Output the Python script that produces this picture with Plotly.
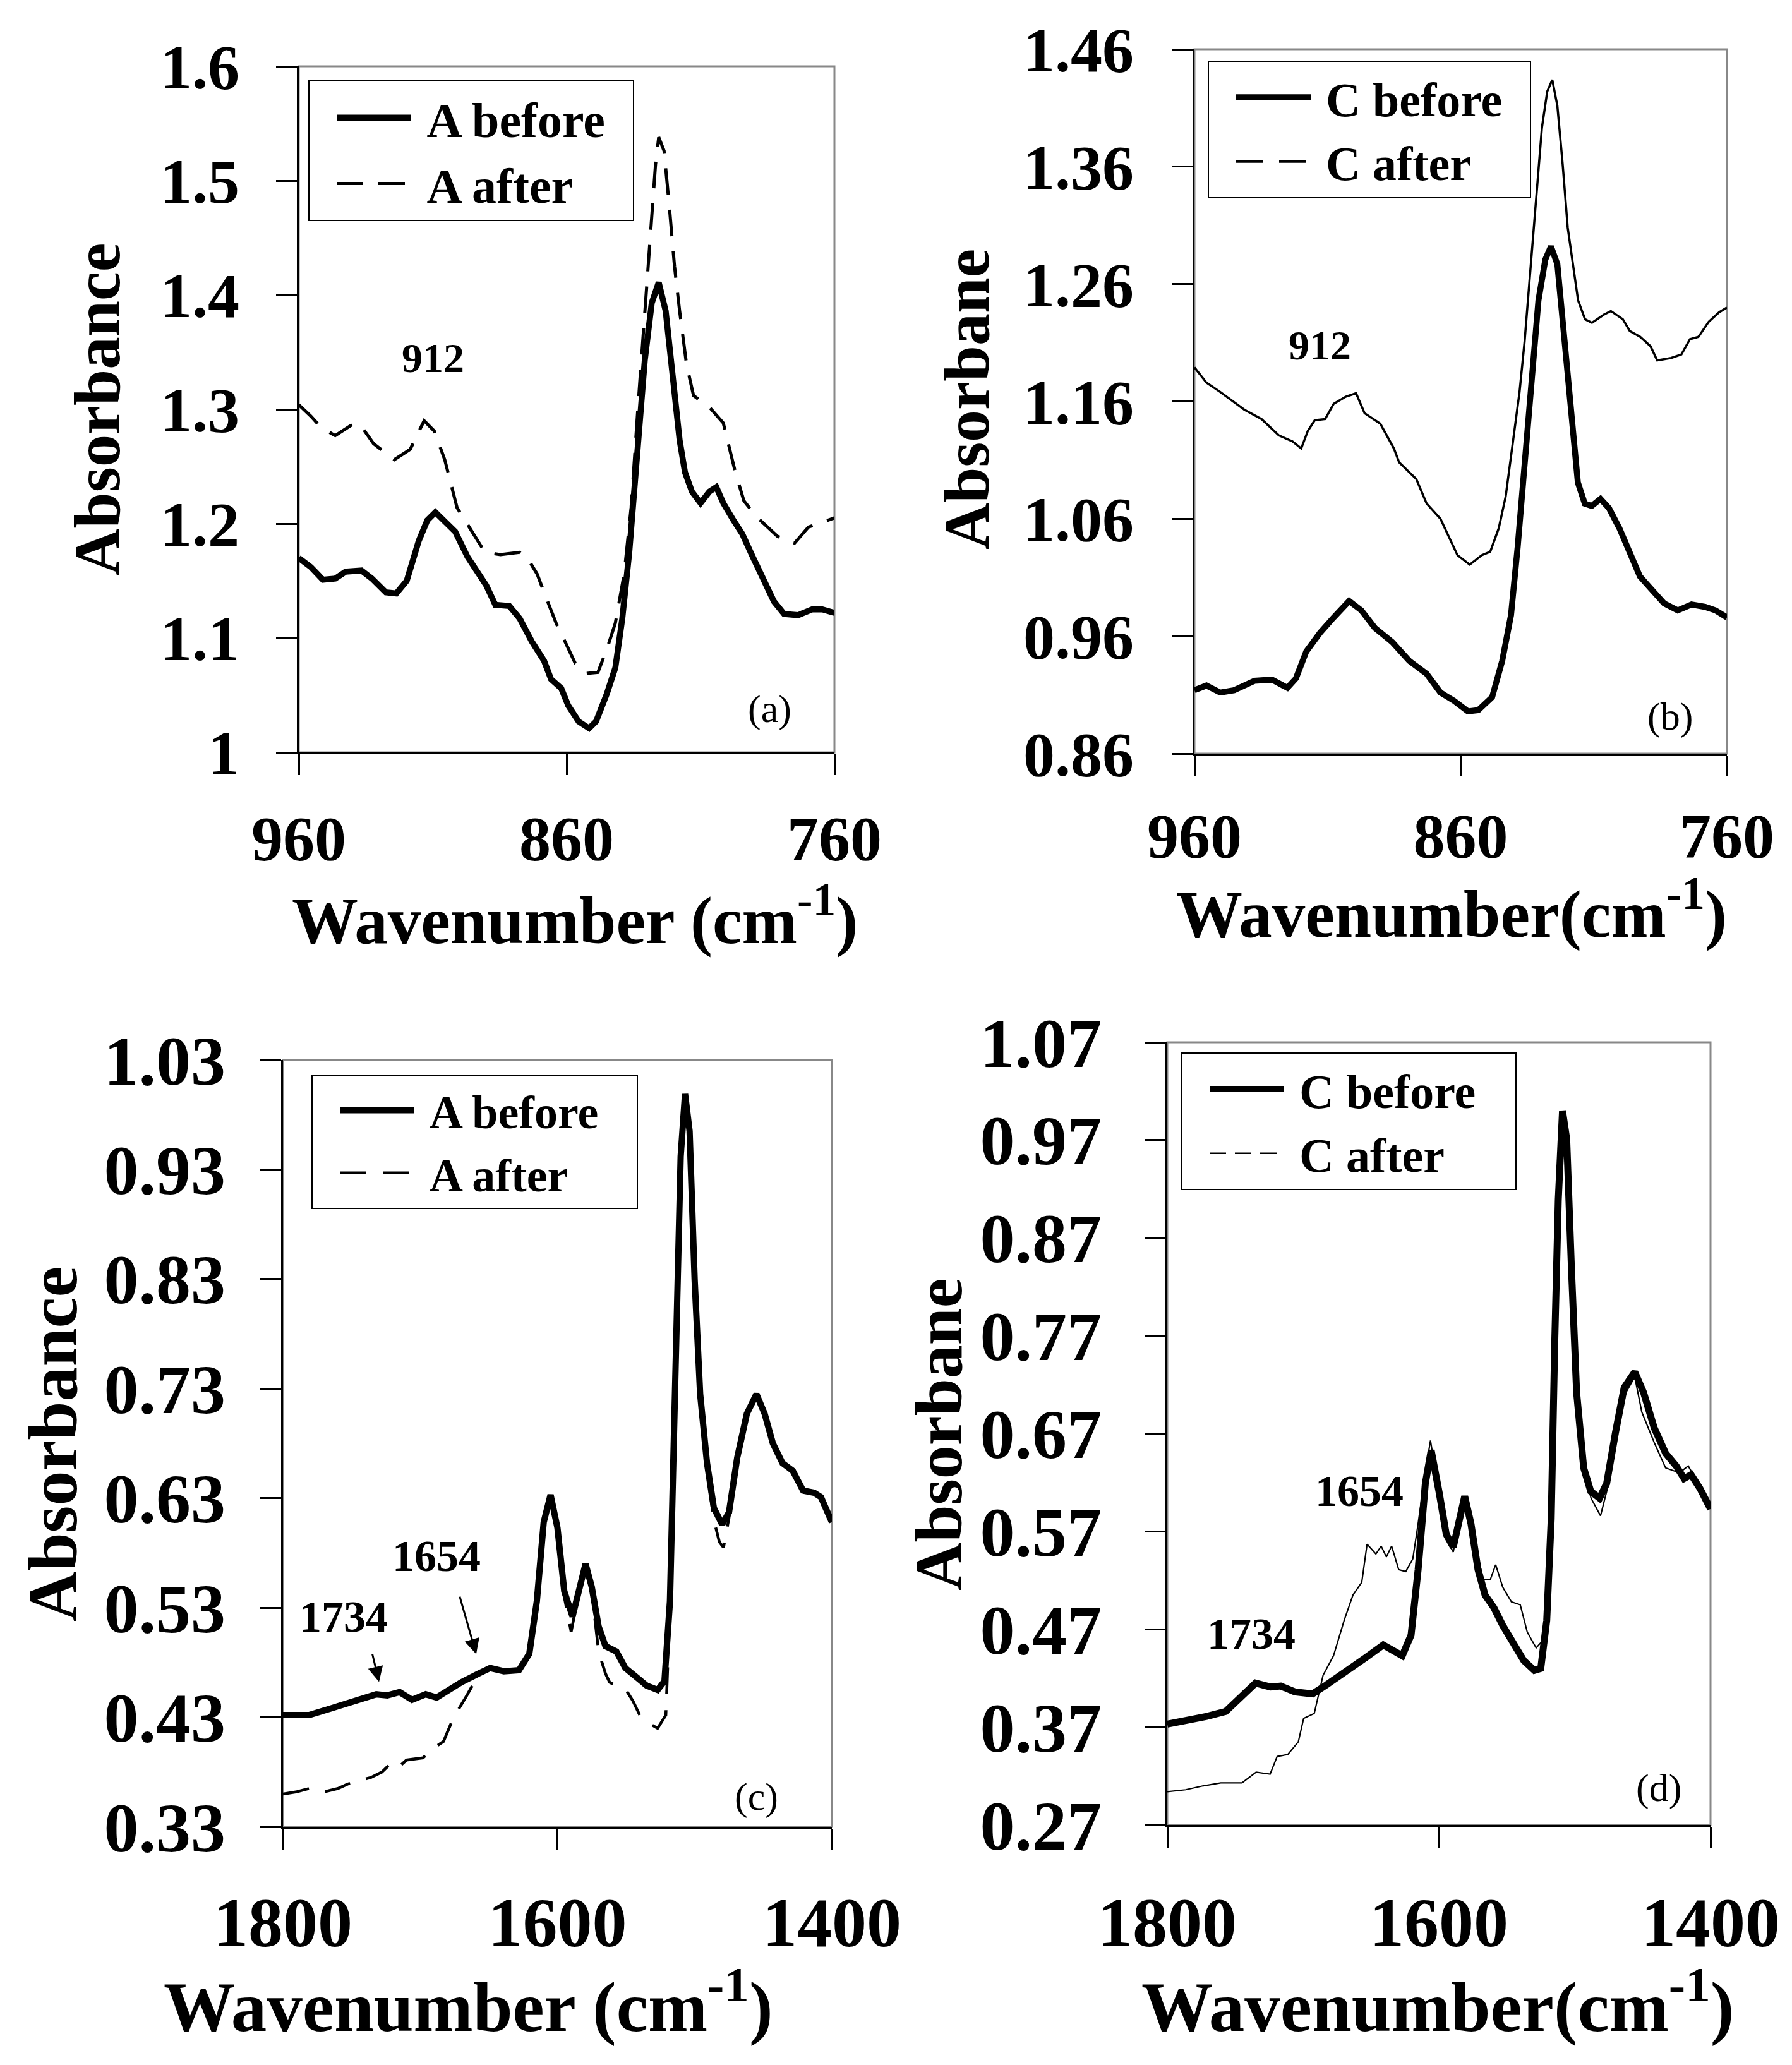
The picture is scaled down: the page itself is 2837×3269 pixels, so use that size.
import plotly.graph_objects as go

W, H = 2837, 3269
FONT = "Liberation Serif"
NB = "\u00a0"

# ---------------- data ----------------
# (a) sample A, 960-760 cm-1
a_before_wn = [960, 955.5, 951, 946.4, 942.5, 936.6, 932.7, 927.5, 923.6, 919.7, 915.2, 912, 909, 906,
               901.6, 897, 893, 890, 886.6, 881.4, 877.5, 873, 868.4, 865.8, 862, 859.4, 855.5, 851.6,
               849, 845, 841.8, 839.2, 836.6, 834, 830.8, 828.2, 825.6, 823, 820.4, 817.8, 815.8, 813.2,
               810, 806.7, 804.1, 801.5, 797.7, 794.4, 790.5, 786.5, 782.6, 778.8, 773.6, 768.4, 764.5, 760]
a_before_abs = [1.170, 1.162, 1.151, 1.152, 1.158, 1.159, 1.152, 1.140, 1.139, 1.150, 1.185, 1.203, 1.210, 1.203,
                1.193, 1.171, 1.157, 1.146, 1.129, 1.128, 1.117, 1.097, 1.080, 1.064, 1.056, 1.041, 1.027, 1.021,
                1.027, 1.051, 1.074, 1.117, 1.175, 1.253, 1.343, 1.393, 1.411, 1.386, 1.323, 1.273, 1.245, 1.228,
                1.218, 1.228, 1.232, 1.218, 1.203, 1.191, 1.171, 1.152, 1.132, 1.121, 1.120, 1.125, 1.125, 1.122]
a_after_wn = [960, 955.5, 951.6, 946.4, 939.2, 936.6, 932.1, 924.3, 918.4, 913.2, 909.4, 905.5, 900.9, 895.7,
              890.5, 884.7, 877.5, 874.9, 871, 867.1, 863.9, 860, 856.8, 852.9, 848.3, 845, 841.8, 838.5,
              835.9, 833.4, 830.8, 828.8, 826.8, 825.6, 823.6, 821.7, 819.7, 817.8, 815.2, 812.6, 806.7,
              801.5, 799, 797, 793.8, 789.1, 781.3, 774.9, 769.7, 764.5, 760]
a_after_abs = [1.304, 1.294, 1.284, 1.277, 1.288, 1.285, 1.270, 1.256, 1.265, 1.290, 1.281, 1.256, 1.214, 1.195,
               1.175, 1.173, 1.175, 1.171, 1.156, 1.132, 1.113, 1.094, 1.078, 1.069, 1.070, 1.090, 1.113, 1.156,
               1.214, 1.300, 1.386, 1.448, 1.514, 1.538, 1.526, 1.479, 1.425, 1.386, 1.339, 1.312, 1.302,
               1.288, 1.265, 1.245, 1.220, 1.206, 1.189, 1.183, 1.197, 1.201, 1.205]

# (b) sample C, 960-760 cm-1
b_before_wn = [960, 955.5, 950.3, 945.1, 937.4, 930.9, 925.1, 921.9, 918, 912.8, 907.7, 901.9, 897.3, 892.2,
               885.7, 879.3, 872.8, 867.6, 862.5, 857.3, 853.4, 848.2, 844.4, 841.1, 838.6, 836, 833.4, 830.8,
               828.2, 826.1, 823.7, 821.1, 818.5, 816, 813.4, 810.8, 807.5, 804.3, 800.4, 796.5, 792.7, 788.8,
               783.6, 778.5, 773.3, 768.2, 764.3, 760]
b_before_abs = [0.914, 0.918, 0.912, 0.914, 0.922, 0.923, 0.916, 0.924, 0.947, 0.963, 0.976, 0.990, 0.982, 0.967,
                0.955, 0.939, 0.928, 0.912, 0.905, 0.896, 0.897, 0.908, 0.939, 0.978, 1.036, 1.106, 1.180, 1.246,
                1.281, 1.292, 1.277, 1.215, 1.141, 1.091, 1.073, 1.071, 1.077, 1.069, 1.052, 1.032, 1.011, 1.001,
                0.988, 0.982, 0.987, 0.985, 0.982, 0.976]
b_after_wn = [960, 955.5, 950.3, 941.3, 934.8, 928.3, 923.2, 919.9, 917.4, 914.8, 910.9, 907.7, 903.2, 899.3,
              896.1, 890.2, 885.1, 883.1, 876.7, 872.8, 867.6, 864.4, 861.2, 856.6, 852.1, 848.9, 845.7, 843.1,
              840.5, 837.9, 836, 833.4, 831.4, 829.5, 827.5, 825.6, 823.7, 821.7, 819.8, 817.8, 815.9, 813.3,
              810.7, 806.2, 803.6, 799.1, 796.5, 792.6, 788.7, 786.2, 781, 777.1, 773.9, 770.7, 766.8, 762.9, 760]
b_after_abs = [1.189, 1.176, 1.168, 1.153, 1.145, 1.131, 1.126, 1.120, 1.135, 1.144, 1.145, 1.158, 1.164, 1.167,
               1.150, 1.141, 1.120, 1.108, 1.094, 1.073, 1.060, 1.044, 1.029, 1.021, 1.029, 1.032, 1.052, 1.079,
               1.122, 1.168, 1.211, 1.284, 1.339, 1.393, 1.424, 1.434, 1.412, 1.362, 1.308, 1.277, 1.246, 1.230,
               1.227, 1.234, 1.237, 1.230, 1.220, 1.215, 1.207, 1.195, 1.197, 1.200, 1.213, 1.215, 1.228, 1.236, 1.240]

# (c) sample A, 1800-1400 cm-1
c_before_wn = [1800, 1790, 1781, 1768, 1760, 1750, 1740, 1732, 1724, 1715, 1706, 1696, 1688, 1680, 1670, 1659,
               1649, 1639, 1628, 1620.5, 1615, 1610, 1605, 1600, 1595, 1589, 1584, 1579.5, 1575, 1570, 1565,
               1557, 1550.5, 1543, 1535, 1527, 1522, 1518, 1515.4, 1512.8, 1510.2, 1507, 1503.7, 1500, 1496,
               1491, 1486, 1480, 1475, 1469, 1462, 1455, 1449, 1443, 1436, 1428.5, 1421, 1413, 1408, 1400]
c_before_abs = [0.432, 0.432, 0.432, 0.437, 0.440, 0.443, 0.447, 0.451, 0.450, 0.453, 0.446, 0.451, 0.448, 0.455,
                0.462, 0.469, 0.475, 0.472, 0.473, 0.488, 0.536, 0.608, 0.633, 0.603, 0.545, 0.522, 0.545, 0.570,
                0.549, 0.513, 0.495, 0.490, 0.475, 0.468, 0.459, 0.455, 0.463, 0.536, 0.671, 0.829, 0.942, 0.999,
                0.965, 0.829, 0.725, 0.662, 0.621, 0.606, 0.617, 0.667, 0.707, 0.725, 0.707, 0.680, 0.662, 0.655,
                0.637, 0.635, 0.631, 0.608]
c_after_wn = [1800, 1790, 1781, 1770, 1760, 1753, 1745, 1736, 1728, 1723, 1718, 1710, 1698, 1690, 1683, 1676,
              1666, 1657, 1649, 1640, 1630, 1621, 1615, 1610, 1605, 1600, 1595, 1590, 1585, 1580, 1575, 1570,
              1565, 1562, 1556, 1550, 1545, 1540, 1534, 1527, 1521, 1518, 1515, 1513, 1510, 1507, 1504, 1500,
              1496, 1491, 1486, 1482, 1479, 1475, 1469, 1462, 1455, 1449, 1443, 1436, 1428, 1421, 1413, 1408, 1400]
c_after_abs = [0.360, 0.362, 0.365, 0.362, 0.365, 0.369, 0.372, 0.375, 0.380, 0.386, 0.382, 0.391, 0.393, 0.402,
               0.408, 0.429, 0.450, 0.470, 0.475, 0.473, 0.474, 0.486, 0.534, 0.606, 0.631, 0.603, 0.540, 0.508,
               0.540, 0.568, 0.545, 0.490, 0.470, 0.462, 0.458, 0.455, 0.445, 0.432, 0.425, 0.420, 0.432, 0.530,
               0.670, 0.828, 0.940, 0.997, 0.963, 0.827, 0.722, 0.655, 0.610, 0.590, 0.585, 0.612, 0.665, 0.705,
               0.723, 0.705, 0.678, 0.660, 0.653, 0.636, 0.634, 0.630, 0.607]

# (d) sample C, 1800-1400 cm-1
d_before_wn = [1800, 1786.5, 1771, 1757, 1748, 1740, 1735, 1724, 1716.5, 1706, 1693, 1683, 1670, 1654, 1641,
               1633.5, 1627, 1620.5, 1615.3, 1610, 1605.7, 1599.7, 1594.6, 1589.4, 1585.5, 1581, 1576.4, 1571.2,
               1566, 1559.5, 1553, 1545.3, 1537.5, 1529.7, 1525, 1520.6, 1517.3, 1514.7, 1512.1, 1509, 1505.9,
               1502.5, 1498.6, 1493.4, 1488.2, 1481.7, 1476.5, 1470, 1463.6, 1455.8, 1449.3, 1441.5, 1433.1,
               1425.3, 1419.5, 1414.3, 1407.8, 1400]
d_before_abs = [0.373, 0.376, 0.381, 0.386, 0.397, 0.408, 0.415, 0.411, 0.412, 0.406, 0.404, 0.413, 0.425, 0.441,
                0.454, 0.448, 0.443, 0.464, 0.531, 0.619, 0.653, 0.609, 0.567, 0.554, 0.578, 0.606, 0.578, 0.531,
                0.505, 0.492, 0.474, 0.456, 0.438, 0.428, 0.430, 0.479, 0.583, 0.764, 0.909, 1.000, 0.971, 0.842,
                0.712, 0.635, 0.611, 0.604, 0.619, 0.671, 0.717, 0.733, 0.712, 0.676, 0.650, 0.637, 0.624, 0.628,
                0.614, 0.593]
d_after_wn = [1800, 1786.5, 1773.5, 1760.6, 1745, 1734.6, 1724.3, 1719.1, 1711.3, 1703.5, 1699.6, 1691.8, 1685.3,
              1677.6, 1669.8, 1663.3, 1656.8, 1652.9, 1646.4, 1642.5, 1638.7, 1634.8, 1629.6, 1624.4, 1619.2,
              1615.3, 1610.1, 1606.2, 1600, 1594.6, 1589.4, 1585.5, 1581.1, 1575.1, 1567.3, 1562.1, 1558.2, 1553,
              1546.6, 1540.1, 1534.9, 1528.4, 1523.2, 1519.3, 1517.3, 1514.7, 1512.1, 1509, 1505.9, 1502.5, 1498.6,
              1493.4, 1488, 1481, 1475, 1468.7, 1462.3, 1455.8, 1450.6, 1441.5, 1433.1, 1422.9, 1416.4, 1412.4, 1400]
d_after_abs = [0.304, 0.306, 0.310, 0.313, 0.313, 0.324, 0.322, 0.340, 0.342, 0.355, 0.379, 0.384, 0.423, 0.443,
               0.479, 0.505, 0.518, 0.557, 0.547, 0.555, 0.544, 0.555, 0.531, 0.529, 0.542, 0.578, 0.630, 0.663,
               0.609, 0.562, 0.549, 0.578, 0.606, 0.567, 0.521, 0.521, 0.536, 0.513, 0.498, 0.495, 0.467, 0.451,
               0.459, 0.505, 0.583, 0.764, 0.909, 1.000, 0.971, 0.842, 0.712, 0.635, 0.604, 0.586, 0.619, 0.671,
               0.712, 0.728, 0.692, 0.661, 0.635, 0.630, 0.637, 0.627, 0.593]

# axis ticks
top_xticks = [960, 860, 760]
bot_xticks = [1800, 1600, 1400]
a_yticks = [1.0, 1.1, 1.2, 1.3, 1.4, 1.5, 1.6]
a_ytext = ["1", "1.1", "1.2", "1.3", "1.4", "1.5", "1.6"]
b_yticks = [0.86, 0.96, 1.06, 1.16, 1.26, 1.36, 1.46]
b_ytext = ["0.86", "0.96", "1.06", "1.16", "1.26", "1.36", "1.46"]
c_yticks = [0.33, 0.43, 0.53, 0.63, 0.73, 0.83, 0.93, 1.03]
c_ytext = ["0.33", "0.43", "0.53", "0.63", "0.73", "0.83", "0.93", "1.03"]
d_yticks = [0.27, 0.37, 0.47, 0.57, 0.67, 0.77, 0.87, 0.97, 1.07]
d_ytext = ["0.27", "0.37", "0.47", "0.57", "0.67", "0.77", "0.87", "0.97", "1.07"]

# ---------------- helpers ----------------
def px(x):
    return x / W

def py(y):
    return 1 - y / H

def lname(s, trail=1):
    # non-breaking spaces give the legend text the padding seen in the original
    return NB + s + NB * trail

fig = go.Figure()

# panel geometry in pixels: left, right, top, bottom
panels = {
    "a": dict(ax="", box=(465, 1313, 97, 1183)),
    "b": dict(ax="2", box=(1883, 2726, 70, 1185)),
    "c": dict(ax="3", box=(440, 1309, 1670, 2884)),
    "d": dict(ax="4", box=(1840, 2700, 1642, 2881)),
}

# ---- traces ----
# (a)
fig.add_trace(go.Scatter(x=a_after_wn, y=a_after_abs, mode="lines", name=lname("A after", 2),
                         line=dict(color="black", width=5, dash="42px,24px"),
                         xaxis="x", yaxis="y", legend="legend"))
fig.add_trace(go.Scatter(x=a_before_wn, y=a_before_abs, mode="lines", name=lname("A before", 2),
                         line=dict(color="black", width=9.5),
                         xaxis="x", yaxis="y", legend="legend"))
# (b)
fig.add_trace(go.Scatter(x=b_after_wn, y=b_after_abs, mode="lines", name=lname("C after", 2),
                         line=dict(color="black", width=3.5), showlegend=False,
                         xaxis="x2", yaxis="y2"))
fig.add_trace(go.Scatter(x=[None], y=[None], mode="lines", name=lname("C after", 2),
                         line=dict(color="black", width=4, dash="42px,26px"),
                         xaxis="x2", yaxis="y2", legend="legend2"))
fig.add_trace(go.Scatter(x=b_before_wn, y=b_before_abs, mode="lines", name=lname("C before", 2),
                         line=dict(color="black", width=9.5),
                         xaxis="x2", yaxis="y2", legend="legend2"))
# (c)
fig.add_trace(go.Scatter(x=c_after_wn, y=c_after_abs, mode="lines", name=lname("A after", 3),
                         line=dict(color="black", width=4.5, dash="42px,26px"),
                         xaxis="x3", yaxis="y3", legend="legend3"))
fig.add_trace(go.Scatter(x=c_before_wn, y=c_before_abs, mode="lines", name=lname("A before", 3),
                         line=dict(color="black", width=10),
                         xaxis="x3", yaxis="y3", legend="legend3"))
# (d)
fig.add_trace(go.Scatter(x=d_after_wn, y=d_after_abs, mode="lines", name=lname("C after", 3),
                         line=dict(color="black", width=2.2), showlegend=False,
                         xaxis="x4", yaxis="y4"))
fig.add_trace(go.Scatter(x=[None], y=[None], mode="lines", name=lname("C after", 3),
                         line=dict(color="black", width=2.5, dash="26px,14px"),
                         xaxis="x4", yaxis="y4", legend="legend4"))
fig.add_trace(go.Scatter(x=d_before_wn, y=d_before_abs, mode="lines", name=lname("C before", 3),
                         line=dict(color="black", width=11),
                         xaxis="x4", yaxis="y4", legend="legend4"))

# ---- axes ----
def xaxis_cfg(box, anchor, xr, ticks, size, standoff):
    l, r, t, b = box
    return dict(domain=[px(l), px(r)], anchor=anchor, range=xr, tickmode="array", tickvals=ticks,
                ticks="outside", ticklen=33, tickwidth=2.5, tickcolor="black",
                showline=True, linecolor="black", linewidth=3, showgrid=False, zeroline=False,
                ticklabelstandoff=standoff,
                tickfont=dict(family=FONT, size=size, color="black", weight="bold"))

def yaxis_cfg(box, anchor, yr, ticks, text, size, standoff):
    l, r, t, b = box
    return dict(domain=[py(b), py(t)], anchor=anchor, range=yr, tickmode="array", tickvals=ticks,
                ticktext=text, ticks="outside", ticklen=33, tickwidth=2.5, tickcolor="black",
                showline=True, linecolor="black", linewidth=3, showgrid=False, zeroline=False,
                ticklabelstandoff=standoff,
                tickfont=dict(family=FONT, size=size, color="black", weight="bold"))

layout = dict(
    width=W, height=H, margin=dict(l=0, r=0, t=0, b=0, autoexpand=False),
    paper_bgcolor="white", plot_bgcolor="white", showlegend=True,
    xaxis=xaxis_cfg(panels["a"]["box"], "y", [960, 760], top_xticks, 100, 14),
    yaxis=yaxis_cfg(panels["a"]["box"], "x", [1.0, 1.6], a_yticks, a_ytext, 100, 38),
    xaxis2=xaxis_cfg(panels["b"]["box"], "y2", [960, 760], top_xticks, 100, 8),
    yaxis2=yaxis_cfg(panels["b"]["box"], "x2", [0.86, 1.46], b_yticks, b_ytext, 100, 40),
    xaxis3=xaxis_cfg(panels["c"]["box"], "y3", [1800, 1400], bot_xticks, 110, 21),
    yaxis3=yaxis_cfg(panels["c"]["box"], "x3", [0.33, 1.03], c_yticks, c_ytext, 110, 33),
    xaxis4=xaxis_cfg(panels["d"]["box"], "y4", [1800, 1400], bot_xticks, 110, 24),
    yaxis4=yaxis_cfg(panels["d"]["box"], "x4", [0.27, 1.07], d_yticks, d_ytext, 110, 46),
)

def legend_cfg(x, y, size):
    return dict(x=px(x), y=py(y), xanchor="left", yanchor="top", bgcolor="white",
                bordercolor="black", borderwidth=2, itemwidth=118, tracegroupgap=0,
                traceorder="reversed", indentation=38,
                font=dict(family=FONT, size=size, color="black", weight="bold"))

layout["legend"] = legend_cfg(480, 119, 78)
layout["legend2"] = legend_cfg(1904, 88, 76)
layout["legend3"] = legend_cfg(485, 1693, 74)
layout["legend4"] = legend_cfg(1862, 1658, 76)

fig.update_layout(**layout)

# gray plot-area frame (top/right edges), black axis lines drawn over left/bottom
for key, p in panels.items():
    s = p["ax"]
    fig.add_shape(type="rect", xref=f"x{s} domain", yref=f"y{s} domain", x0=0, x1=1, y0=0, y1=1,
                  line=dict(color="#888888", width=3), layer="below")

annotations = []

def text_ann(text, x, y, size, bold=True, angle=0, xref="paper", yref="paper"):
    annotations.append(dict(text=text, x=x, y=y, xref=xref, yref=yref, showarrow=False,
                            xanchor="center", yanchor="middle", textangle=angle,
                            font=dict(family=FONT, size=size, color="black",
                                      weight="bold" if bold else "normal")))

# axis titles
text_ann("Wavenumber (cm<sup>-1</sup>)", px(902), py(1442), 105)
text_ann("Wavenumber(cm<sup>-1</sup>)", px(2290), py(1432), 105)
text_ann("Wavenumber (cm<sup>-1</sup>)", px(733), py(3160), 113)
text_ann("Wavenumber(cm<sup>-1</sup>)", px(2268), py(3160), 113)
text_ann("Absorbance", px(146), py(640), 103, angle=-90)
text_ann("Absorbane", px(1522), py(624), 102, angle=-90)
text_ann("Absorbance", px(76), py(2278), 110, angle=-90)
text_ann("Absorbane", px(1478), py(2262), 106, angle=-90)

# panel labels
text_ann("(a)", px(1210), py(1115), 62, bold=False)
text_ann("(b)", px(2636), py(1127), 62, bold=False)
text_ann("(c)", px(1189), py(2836), 62, bold=False)
text_ann("(d)", px(2618), py(2822), 62, bold=False)

# band labels
text_ann("912", 910, 1.345, 66, xref="x", yref="y")
text_ann("912", 913, 1.208, 66, xref="x2", yref="y2")
text_ann("1734", 1756, 0.522, 70, xref="x3", yref="y3")
text_ann("1654", 1688, 0.577, 70, xref="x3", yref="y3")
text_ann("1734", 1738, 0.465, 70, xref="x4", yref="y4")
text_ann("1654", 1658.5, 0.611, 70, xref="x4", yref="y4")

# arrows in (c), pointing from the band labels down to the spectrum
for (hx, hy, tx, ty) in [(1730, 0.4624, 1735.3, 0.490), (1659.2, 0.4877, 1671.7, 0.5424)]:
    annotations.append(dict(text=NB, x=hx, y=hy, ax=tx, ay=ty, xref="x3", yref="y3",
                            axref="x3", ayref="y3", showarrow=True, arrowhead=2, arrowsize=1.6,
                            arrowwidth=3, arrowcolor="black", standoff=0, startstandoff=0,
                            font=dict(family=FONT, size=4, color="black")))

fig.update_layout(annotations=annotations)
fig.write_html("out.html")
